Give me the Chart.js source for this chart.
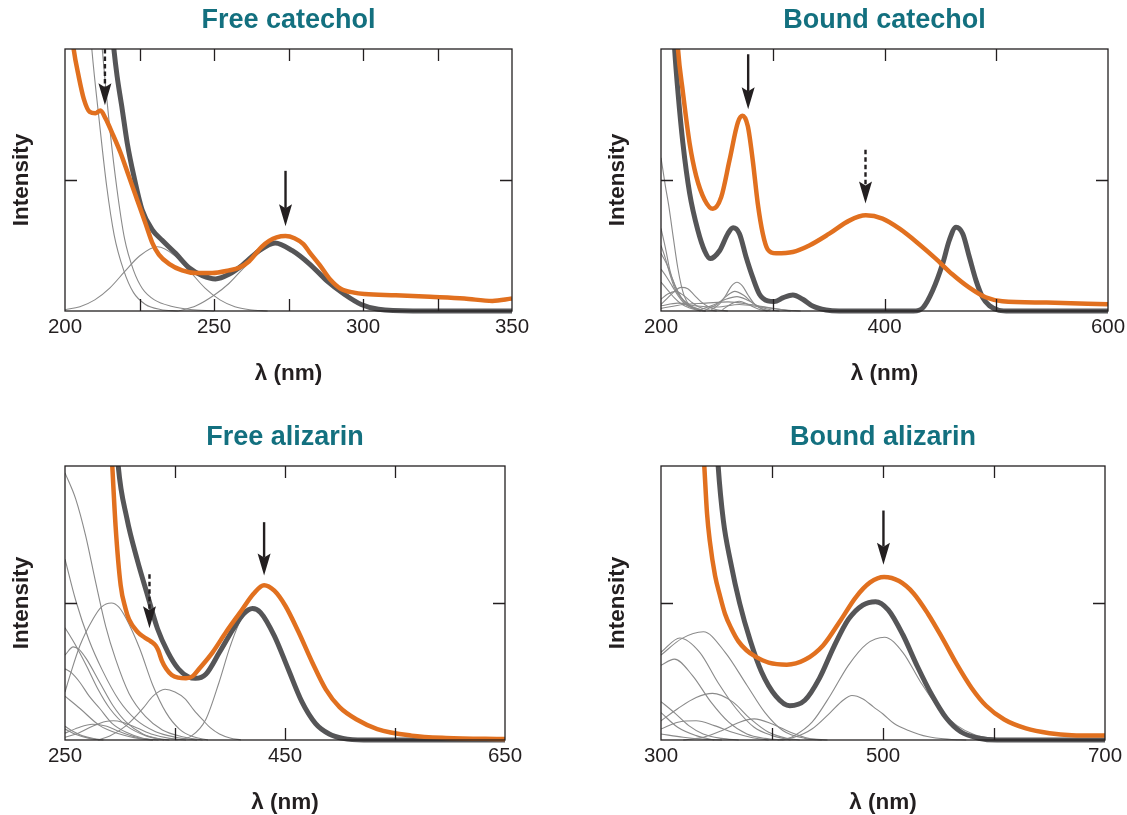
<!DOCTYPE html>
<html>
<head>
<meta charset="utf-8">
<script src="https://cdn.jsdelivr.net/npm/chart.js@4.4.1/dist/chart.umd.min.js"></script>
<style>
  html, body { margin: 0; padding: 0; background: #ffffff; }
  body { width: 1127px; height: 815px; position: relative; overflow: hidden; }
  .panel { position: absolute; }
</style>
</head>
<body>
<div class="panel" style="left:0px;top:0px"><canvas id="chart0" width="560" height="405"></canvas></div>
<div class="panel" style="left:563px;top:0px"><canvas id="chart1" width="600" height="405"></canvas></div>
<div class="panel" style="left:0px;top:410px"><canvas id="chart2" width="560" height="405"></canvas></div>
<div class="panel" style="left:563px;top:410px"><canvas id="chart3" width="600" height="405"></canvas></div>
<script>
// ---- data: [wavelength nm, intensity] ----

// Free catechol
const fcOrange = [[200,2.6],[202.9,2.0],[204.6,1.79],[206.3,1.62],[208.3,1.52],[210.2,1.51],[211.9,1.53],[213.6,1.47],[215.8,1.36],[218.6,1.21],[221.4,1.03],[224.2,0.85],[227,0.67],[229.3,0.52],[231.5,0.43],[234.9,0.36],[239.3,0.31],[243.8,0.29],[249.4,0.29],[255,0.31],[258.4,0.33],[261.8,0.38],[266,0.49],[268.5,0.535],[271,0.562],[274,0.572],[277,0.555],[280,0.51],[282,0.45],[285.5,0.35],[289,0.24],[292.5,0.17],[297,0.14],[300.6,0.13],[311,0.12],[322.5,0.108],[334,0.095],[343.4,0.077],[350,0.095]];
const fcGray = [[214,2.6],[216.4,2.0],[217.5,1.79],[219.2,1.54],[220.9,1.28],[223.1,1.03],[225.9,0.77],[229.3,0.62],[232.6,0.54],[237.1,0.44],[241.6,0.33],[246.1,0.27],[250.5,0.245],[255,0.28],[259.5,0.35],[265.1,0.46],[270.5,0.52],[276.3,0.46],[282,0.36],[287.9,0.23],[293.6,0.13],[299.4,0.05],[305.2,0.013],[316.8,0],[350,0]];
const fcParts = [
  [[206,2.9],[209,2.0],[211.5,1.45],[214,0.95],[216.5,0.58],[219.7,0.31],[223,0.14],[227,0.05],[232,0.012],[238,0]],
  [[209.5,2.9],[212.5,2.0],[215,1.4],[217.5,0.92],[220,0.55],[223,0.31],[226,0.17],[230,0.085],[236,0.035],[242,0.012],[250,0]],
  [[200,0.01],[205,0.033],[210,0.085],[215,0.175],[220,0.3],[225,0.42],[231,0.49],[237,0.42],[242,0.3],[247,0.175],[252,0.085],[257,0.033],[262,0.01],[268,0]],
  [[238,0],[244,0.04],[250,0.12],[255,0.21],[260,0.33],[265,0.44],[270.5,0.52],[276,0.47],[281,0.38],[286,0.27],[291,0.17],[296,0.09],[301,0.04],[306,0.015],[312,0]]
];
const fcArrows = [{nm: 274, from: 1.07, to: 0.646, dashed: false}, {nm: 213.4, from: 2.0, to: 1.57, dashed: true}];
const fcTickLabels = [200, 250, 300, 350];

// Bound catechol
const bcOrange = [[210,2.8],[215.2,2.0],[219.6,1.67],[225.6,1.28],[231.5,1.03],[239,0.85],[246.4,0.78],[253.9,0.87],[261.3,1.15],[268.8,1.44],[273,1.49],[277.7,1.41],[282.1,1.15],[286.6,0.82],[291.1,0.59],[295.5,0.47],[303,0.44],[317.9,0.45],[332.7,0.5],[350.6,0.59],[368.5,0.69],[383.3,0.73],[398.2,0.705],[413.1,0.63],[431,0.51],[445.8,0.4],[460.7,0.28],[475.6,0.18],[490.5,0.105],[505.4,0.075],[545,0.064],[600,0.051]];
const bcGray = [[207,2.8],[212.2,2.0],[215.2,1.67],[219.6,1.28],[225.6,0.9],[233,0.615],[239,0.46],[244,0.4],[252.4,0.46],[259.8,0.59],[264.5,0.635],[270.2,0.59],[276.2,0.41],[282.1,0.256],[288.1,0.128],[295.5,0.077],[301.5,0.072],[308.9,0.1],[318,0.123],[326.8,0.09],[335.7,0.038],[347.6,0.008],[359.5,0],[426,0],[434.5,0.026],[443,0.154],[452,0.36],[458,0.54],[464,0.64],[470,0.59],[476,0.41],[482,0.23],[488,0.1],[494,0.04],[502.5,0.005],[512,0],[600,0]];
const bcParts = [
  [[200,1.17],[204,0.95],[207,0.8],[211,0.56],[215,0.33],[218,0.2],[221,0.11],[225,0.05],[230,0.018],[236,0]],
  [[200,0.63],[204,0.48],[208,0.31],[212,0.2],[216,0.13],[220,0.085],[226,0.045],[232,0.02],[240,0]],
  [[200,0.5],[204,0.4],[208,0.28],[212,0.18],[216,0.12],[222,0.06],[230,0.02],[238,0]],
  [[200,0.44],[205,0.36],[210,0.25],[215,0.15],[220,0.08],[226,0.035],[234,0.01],[240,0]],
  [[200,0.32],[205,0.26],[210,0.19],[215,0.12],[220,0.065],[226,0.03],[234,0.01],[240,0]],
  [[200,0.22],[206,0.16],[212,0.1],[218,0.055],[225,0.025],[235,0]],
  [[200,0.05],[206,0.1],[212,0.15],[218,0.18],[224,0.17],[230,0.12],[236,0.07],[242,0.035],[250,0.01],[260,0]],
  [[200,0.09],[206,0.13],[213,0.15],[220,0.12],[227,0.07],[234,0.03],[242,0.01],[250,0]],
  [[245,0.01],[252,0.05],[258,0.12],[263,0.19],[268,0.22],[273,0.19],[278,0.12],[284,0.05],[290,0.015],[296,0]],
  [[240,0.01],[250,0.05],[258,0.11],[266,0.15],[274,0.12],[282,0.06],[290,0.02],[298,0]],
  [[235,0.01],[248,0.05],[258,0.09],[268,0.11],[278,0.08],[288,0.035],[298,0.01],[306,0]],
  [[255,0.01],[262,0.05],[270,0.075],[278,0.05],[287,0.015],[295,0]],
  [[200,0.02],[220,0.05],[240,0.06],[260,0.07],[280,0.05],[300,0.02],[316,0]],
  [[200,0.04],[215,0.06],[230,0.04],[250,0.03],[270,0.05],[290,0.03],[310,0.01],[325,0]]
];
const bcArrows = [{nm: 278, from: 1.96, to: 1.54, dashed: false}, {nm: 383, from: 1.23, to: 0.82, dashed: true}];
const bcTickLabels = [200, 400, 600];

// Free alizarin
const faOrange = [[288,2.8],[293,2.0],[296,1.56],[300.6,1.13],[305,0.96],[308.2,0.88],[315.8,0.79],[322,0.75],[328,0.72],[332.4,0.69],[335,0.65],[338,0.58],[342,0.52],[347,0.475],[353,0.455],[360,0.45],[366,0.465],[372,0.52],[384.2,0.64],[396.6,0.79],[409.1,0.93],[421.6,1.07],[431,1.13],[440.3,1.09],[450.3,0.98],[462.2,0.79],[474.6,0.57],[487.1,0.37],[499.6,0.24],[515.2,0.15],[533.9,0.08],[565.1,0.032],[596.3,0.015],[650,0.007]];
const faGray = [[292,2.8],[298.4,2.0],[306.2,1.62],[315.5,1.32],[324.9,1.06],[334.2,0.81],[343.6,0.64],[353,0.52],[362.3,0.46],[368.6,0.45],[378,0.48],[390.4,0.64],[402.9,0.81],[412.2,0.92],[420.5,0.96],[427.8,0.93],[440.3,0.76],[452.8,0.52],[465.3,0.28],[477.8,0.12],[490.2,0.044],[502.7,0.012],[521.5,0],[650,0]];
const faParts = [
  [[250,1.95],[259.7,1.76],[268.8,1.49],[277.9,1.15],[287,0.83],[296,0.59],[308.2,0.34],[323.3,0.17],[338.5,0.073],[356.7,0.024],[375,0]],
  [[250,1.32],[259.7,1.02],[271.8,0.73],[283.9,0.51],[299.1,0.29],[314.2,0.15],[332.4,0.06],[350.6,0.02],[370,0]],
  [[250,0.35],[254.5,0.47],[263.6,0.69],[275.6,0.885],[283,0.97],[292.2,1.0],[299,0.97],[305.7,0.885],[317.8,0.67],[329.8,0.4],[341.9,0.2],[354,0.08],[366,0.025],[380,0]],
  [[250,0.62],[257.5,0.68],[263,0.66],[269.6,0.59],[281.6,0.42],[293.7,0.25],[305.7,0.13],[320.8,0.044],[335,0.01],[345,0]],
  [[250,0.82],[259,0.7],[269.6,0.54],[280,0.37],[290.7,0.23],[305.7,0.105],[323.8,0.03],[340,0]],
  [[250,0.52],[256,0.49],[263.6,0.42],[272,0.32],[281.6,0.23],[293,0.12],[305.7,0.056],[320,0.015],[335,0]],
  [[250,0.32],[263.6,0.23],[281.6,0.105],[299.7,0.044],[318,0.01],[330,0]],
  [[250,0.02],[262,0.05],[275,0.1],[287,0.135],[294,0.14],[302,0.13],[315,0.09],[330,0.04],[345,0.012],[360,0]],
  [[250,0.05],[262,0.09],[275,0.115],[288,0.1],[300,0.06],[315,0.02],[330,0]],
  [[250,0.1],[258,0.06],[266,0.03],[276,0.01],[285,0]],
  [[250,0.08],[260,0.04],[272,0.012],[282,0]],
  [[280,0],[290.7,0.03],[305.7,0.105],[320.8,0.23],[330,0.32],[341,0.37],[350,0.35],[359.2,0.3],[367,0.22],[374.8,0.15],[382,0.09],[390.4,0.044],[400,0.015],[410,0]],
  [[350,0],[365,0.03],[378,0.15],[390,0.42],[400,0.68],[410,0.88],[420.5,0.96],[430,0.91],[440,0.76],[452,0.52],[465,0.28],[478,0.12],[490,0.044],[502,0.012],[520,0]]
];
const faArrows = [{nm: 431, from: 1.59, to: 1.2, dashed: false}, {nm: 326.8, from: 1.21, to: 0.815, dashed: true}];
const faTickLabels = [250, 450, 650];

// Bound alizarin
const baOrange = [[333,2.8],[339,2.0],[341.5,1.65],[344,1.45],[348.7,1.2],[352.9,1.06],[357.7,0.92],[363,0.82],[369.8,0.72],[377,0.655],[384.8,0.61],[397,0.565],[413.3,0.55],[429.6,0.585],[446,0.69],[462.3,0.88],[475.3,1.04],[488.4,1.15],[501,1.19],[514.5,1.16],[527.6,1.07],[540.6,0.92],[553.7,0.74],[566.7,0.55],[579.8,0.38],[592.9,0.25],[609.2,0.15],[628.8,0.085],[650,0.05],[670,0.035],[700,0.032]];
const baGray = [[346,2.8],[351.5,2.0],[356.2,1.6],[362.7,1.3],[370.8,1.0],[380.6,0.72],[390.4,0.5],[403.5,0.32],[416,0.25],[429.6,0.29],[442.7,0.45],[455.7,0.68],[468.8,0.88],[481.8,0.985],[493.3,1.01],[504.7,0.95],[517.8,0.77],[530.8,0.54],[543.9,0.33],[557,0.16],[570,0.06],[586.3,0.013],[602.6,0],[700,0]];
const baParts = [
  [[410,0],[419.8,0.03],[436.1,0.13],[452.5,0.325],[468.8,0.545],[485.1,0.7],[501.4,0.75],[517.8,0.64],[534.1,0.42],[550.4,0.23],[566.7,0.105],[583.1,0.037],[599.4,0.012],[615.7,0]],
  [[405,0],[420,0.02],[436,0.08],[452.5,0.2],[464,0.29],[472,0.325],[482,0.3],[491.6,0.24],[500,0.19],[510,0.12],[523,0.07],[540,0.025],[560,0.005],[575,0]],
  [[300,0.62],[318.6,0.74],[338.2,0.79],[357.8,0.64],[377.4,0.4],[393.7,0.2],[410,0.068],[429.6,0.012],[445,0]],
  [[300,0.64],[317,0.745],[334.9,0.64],[351.3,0.42],[367.6,0.23],[383.9,0.093],[400.2,0.032],[416.6,0]],
  [[300,0.545],[312.1,0.59],[328.4,0.47],[344.7,0.28],[361,0.13],[377.4,0.044],[393.7,0.012],[410,0]],
  [[300,0.14],[315.3,0.23],[331.7,0.31],[346.4,0.34],[364.3,0.28],[380.6,0.154],[397,0.056],[413.3,0.012],[425,0]],
  [[320,0],[338.2,0.02],[354.5,0.068],[370.8,0.13],[383.9,0.154],[400.2,0.117],[416.6,0.056],[432.9,0.012],[450,0]],
  [[300,0.08],[315.3,0.13],[331.7,0.14],[348,0.105],[364.3,0.056],[380.6,0.02],[397,0]],
  [[300,0.28],[312,0.2],[325,0.105],[338,0.044],[354.5,0.012],[370,0]],
  [[300,0.2],[315,0.093],[331.7,0.032],[348,0]],
  [[300,0.044],[320,0.02],[340,0.005],[355,0]]
];
const baArrows = [{nm: 500.4, from: 1.675, to: 1.28, dashed: false}];
const baTickLabels = [300, 500, 700];

const panelTitles = ['Free catechol', 'Bound catechol', 'Free alizarin', 'Bound alizarin'];
const xRanges = [[200, 350, 25], [200, 600, 100], [250, 650, 100], [300, 700, 100]]; // min, max, tick step

// ---- look ----
const FONT = '"Liberation Sans", Arial, Helvetica, sans-serif';
const INK = '#231f20';
const TEAL = '#13707f';
const ORANGE = '#e1701f';
const DARK = '#555557';
const THIN = '#8a8a8a';
const TICK_LEN = 12;
const TITLE_SIZE = 27;
const AXIS_TITLE_SIZE = 22.5;
const TICK_SIZE = 20.5;

// where each plot sits on the page (canvas box + plot rectangle + label centres)
const panelBoxes = [
  {left: 0, top: 0, width: 560, height: 405, plot: [65, 49, 512, 311], titleY: 21, xTitleY: 374, yTitleX: 22},
  {left: 563, top: 0, width: 600, height: 405, plot: [661, 49, 1108, 311], titleY: 21, xTitleY: 374, yTitleX: 618},
  {left: 0, top: 410, width: 560, height: 405, plot: [65, 466, 505, 740], titleY: 438, xTitleY: 803, yTitleX: 22},
  {left: 563, top: 410, width: 600, height: 405, plot: [661, 466, 1105, 740], titleY: 438, xTitleY: 803, yTitleX: 618}
];

function toPoints(pairs) {
    return pairs.map(p => ({x: p[0], y: p[1]}));
}

function drawArrow(ctx, px, yFrom, yTip, dashed) {
    const headLen = 22, headHalf = 6.5;
    ctx.save();
    ctx.strokeStyle = INK;
    ctx.fillStyle = INK;
    ctx.lineWidth = 2.4;
    if (dashed) ctx.setLineDash([4.5, 3]);
    ctx.beginPath();
    ctx.moveTo(px, yFrom);
    ctx.lineTo(px, yTip - headLen + 4);
    ctx.stroke();
    ctx.setLineDash([]);
    ctx.beginPath();
    ctx.moveTo(px, yTip);
    ctx.lineTo(px - headHalf, yTip - headLen);
    ctx.lineTo(px, yTip - headLen + 4);
    ctx.lineTo(px + headHalf, yTip - headLen);
    ctx.closePath();
    ctx.fill();
    ctx.restore();
}

// box round the plot, inward ticks, and the arrows
function makeFramePlugin(arrows) {
    return {
        id: 'frame',
        afterDatasetsDraw(chart) {
            const {ctx, chartArea: a, scales: {x, y}} = chart;
            ctx.save();
            ctx.strokeStyle = INK;
            ctx.lineWidth = 1.3;
            ctx.strokeRect(a.left, a.top, a.right - a.left, a.bottom - a.top);
            ctx.beginPath();
            x.ticks.forEach(t => {
                if (t.value <= x.min || t.value >= x.max) return;
                const px = Math.round(x.getPixelForValue(t.value)) + 0.5;
                ctx.moveTo(px, a.top); ctx.lineTo(px, a.top + TICK_LEN);
                ctx.moveTo(px, a.bottom); ctx.lineTo(px, a.bottom - TICK_LEN);
            });
            y.ticks.forEach(t => {
                if (t.value <= y.min || t.value >= y.max) return;
                const py = Math.round(y.getPixelForValue(t.value)) + 0.5;
                ctx.moveTo(a.left, py); ctx.lineTo(a.left + TICK_LEN, py);
                ctx.moveTo(a.right, py); ctx.lineTo(a.right - TICK_LEN, py);
            });
            ctx.stroke();
            ctx.restore();
            arrows.forEach(ar => {
                drawArrow(ctx, x.getPixelForValue(ar.nm), y.getPixelForValue(ar.from), y.getPixelForValue(ar.to), ar.dashed);
            });
        }
    };
}

function lineSet(pairs, color, width) {
    return {
        data: toPoints(pairs),
        borderColor: color,
        borderWidth: width,
        pointRadius: 0,
        fill: false,
        cubicInterpolationMode: 'monotone',
        clip: {left: 0, top: 0, right: 0, bottom: 5}
    };
}

function renderPanel(index, orange, gray, parts, arrows, tickLabels) {
    const box = panelBoxes[index];
    const [plotLeft, plotTop, plotRight, plotBottom] = box.plot;
    const titleLH = TITLE_SIZE * 1.2;
    const titlePadTop = box.titleY - box.top - titleLH / 2;
    const titlePadBottom = (plotTop - box.top) - titleLH - titlePadTop;
    const yAxisWidth = plotLeft - box.left;
    const xAxisHeight = box.top + box.height - plotBottom;
    const yTitlePad = box.yTitleX - box.left - AXIS_TITLE_SIZE / 2;
    const xTitlePad = Math.max(0, box.top + box.height - box.xTitleY - AXIS_TITLE_SIZE / 2);
    const [xMin, xMax, xStep] = xRanges[index];

    // orange first so it ends up on top, thin components last (underneath)
    const datasets = [lineSet(orange, ORANGE, 4.5), lineSet(gray, DARK, 5)];
    parts.forEach(p => datasets.push(lineSet(p, THIN, 1.1)));

    const ctx = document.getElementById('chart' + index).getContext('2d');
    return new Chart(ctx, {
        type: 'line',
        data: {datasets: datasets},
        options: {
            responsive: false,
            animation: false,
            events: [],
            layout: {padding: {left: 0, top: 0, right: box.left + box.width - plotRight, bottom: 0}},
            plugins: {
                legend: {display: false},
                tooltip: {enabled: false},
                title: {
                    display: true,
                    text: panelTitles[index],
                    color: TEAL,
                    fullSize: false,
                    font: {family: FONT, size: TITLE_SIZE, weight: 'bold', lineHeight: 1.2},
                    padding: {top: titlePadTop, bottom: titlePadBottom}
                }
            },
            scales: {
                x: {
                    type: 'linear',
                    min: xMin,
                    max: xMax,
                    grid: {display: false, drawTicks: false},
                    border: {display: false},
                    ticks: {
                        stepSize: xStep,
                        autoSkip: false,
                        maxRotation: 0,
                        padding: 4,
                        color: INK,
                        font: {family: FONT, size: TICK_SIZE},
                        callback: v => tickLabels.includes(v) ? String(v) : ''
                    },
                    title: {
                        display: true,
                        text: 'λ (nm)',
                        color: INK,
                        font: {family: FONT, size: AXIS_TITLE_SIZE, weight: 'bold', lineHeight: 1},
                        padding: {top: xTitlePad, bottom: xTitlePad}
                    },
                    afterFit: s => { s.height = xAxisHeight; }
                },
                y: {
                    type: 'linear',
                    min: 0,
                    max: 2,
                    grid: {display: false, drawTicks: false},
                    border: {display: false},
                    ticks: {display: false, stepSize: 1},
                    title: {
                        display: true,
                        text: 'Intensity',
                        color: INK,
                        font: {family: FONT, size: AXIS_TITLE_SIZE, weight: 'bold', lineHeight: 1},
                        padding: {top: yTitlePad, bottom: yTitlePad}
                    },
                    afterFit: s => { s.width = yAxisWidth; }
                }
            }
        },
        plugins: [makeFramePlugin(arrows)]
    });
}

renderPanel(0, fcOrange, fcGray, fcParts, fcArrows, fcTickLabels);
renderPanel(1, bcOrange, bcGray, bcParts, bcArrows, bcTickLabels);
renderPanel(2, faOrange, faGray, faParts, faArrows, faTickLabels);
renderPanel(3, baOrange, baGray, baParts, baArrows, baTickLabels);
</script>
</body>
</html>
